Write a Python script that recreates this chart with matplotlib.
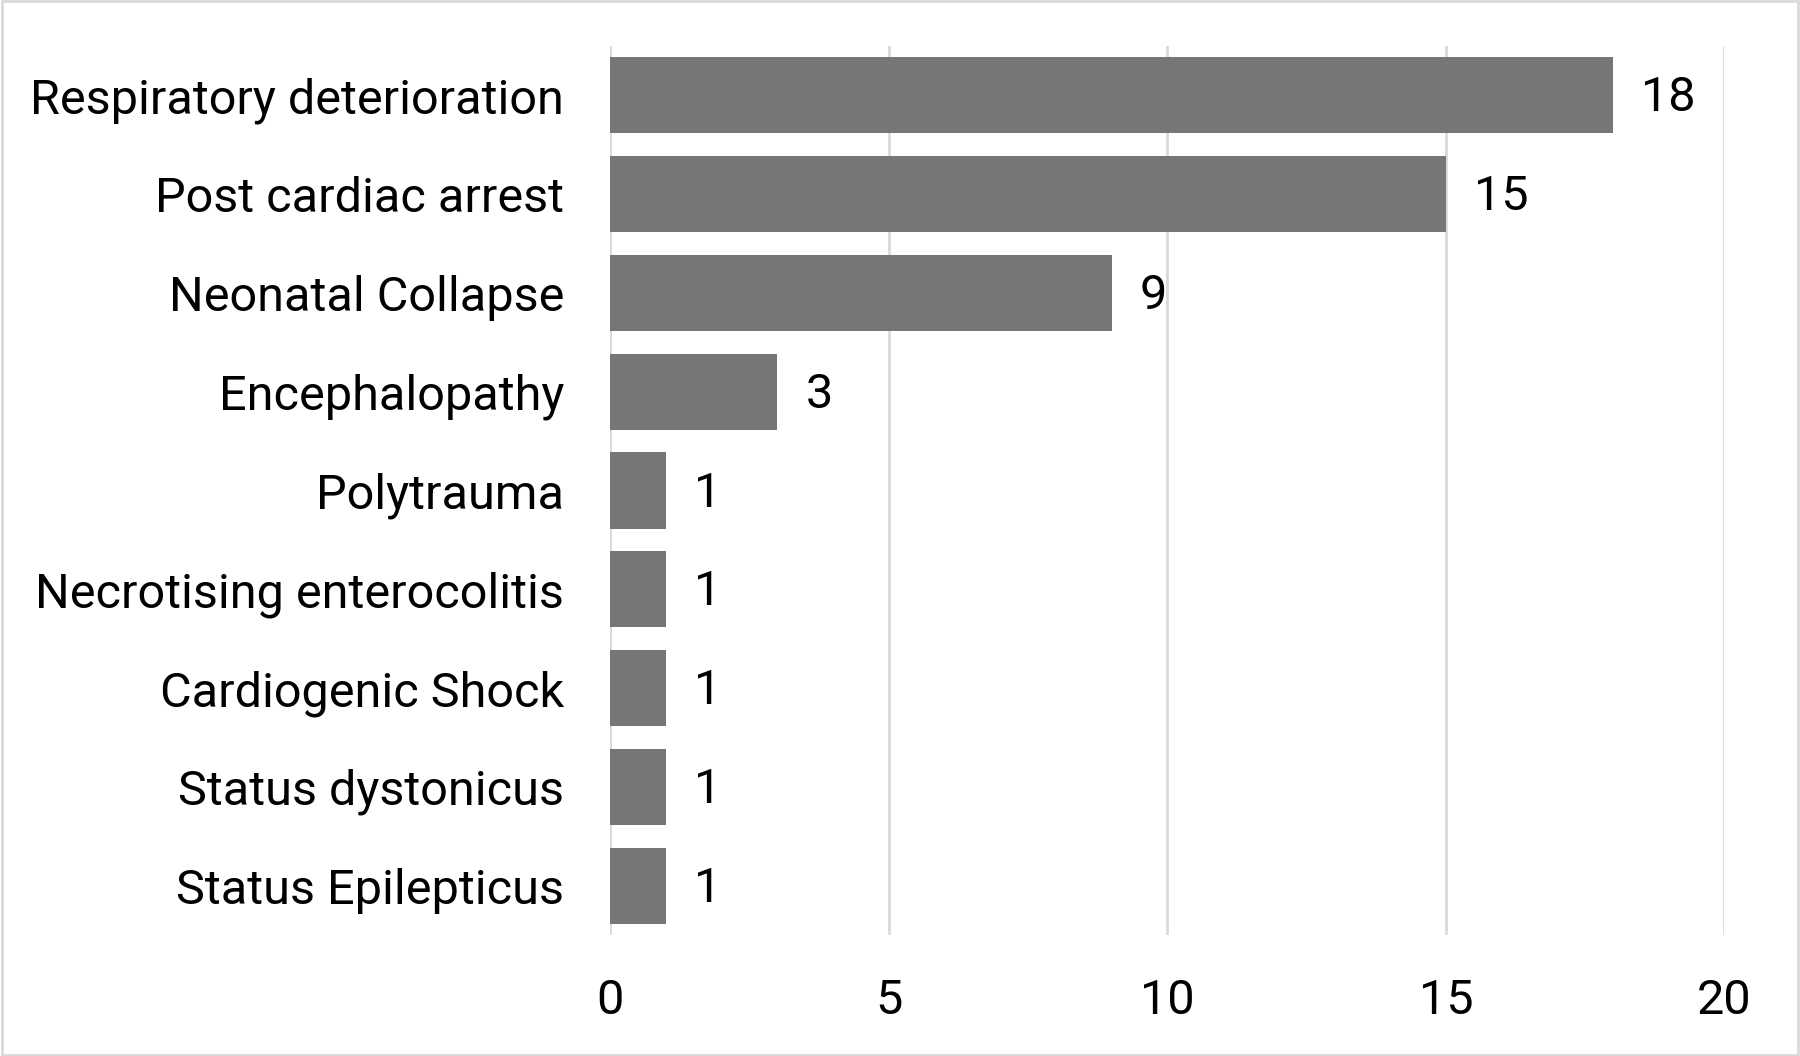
import matplotlib
matplotlib.use("Agg")
import matplotlib.pyplot as plt
from matplotlib.patches import Rectangle

categories = [
    "Respiratory deterioration",
    "Post cardiac arrest",
    "Neonatal Collapse",
    "Encephalopathy",
    "Polytrauma",
    "Necrotising enterocolitis",
    "Cardiogenic Shock",
    "Status dystonicus",
    "Status Epilepticus",
]
values = [18, 15, 9, 3, 1, 1, 1, 1, 1]
x_ticks = [0, 5, 10, 15, 20]

plt.rcParams['font.family'] = ['Roboto', 'DejaVu Sans']
FS = 35

fig = plt.figure(figsize=(18, 10.56), dpi=100)
ax = fig.add_axes([0.339, 0.1146, 0.958 - 0.339, 0.9564 - 0.1146])

pos = list(range(len(categories)))
ax.barh(pos, values, height=0.77, color="#767676", zorder=3)
ax.set_ylim(len(categories) - 0.5, -0.5)
ax.set_xlim(0, 20)
ax.set_yticks(pos)
ax.set_yticklabels(categories, fontsize=FS)
ax.set_xticks(x_ticks)
ax.set_xticklabels([str(t) for t in x_ticks], fontsize=FS)
ax.tick_params(axis='both', length=0)
ax.tick_params(axis='y', pad=33)
ax.tick_params(axis='x', pad=31)
ax.grid(axis='x', color="#d9d9d9", linewidth=2, zorder=0)
for s in ax.spines.values():
    s.set_visible(False)

for p, v in zip(pos, values):
    ax.annotate(str(v), xy=(v, p), xytext=(28, 2), textcoords='offset pixels',
                ha='left', va='center_baseline', fontsize=FS, color='black')

fig.patches.append(Rectangle((0.001, 0.001), 0.998, 0.998, transform=fig.transFigure,
                             fill=False, edgecolor="#d9d9d9", linewidth=2))

fig.savefig("out.png", dpi=100)
